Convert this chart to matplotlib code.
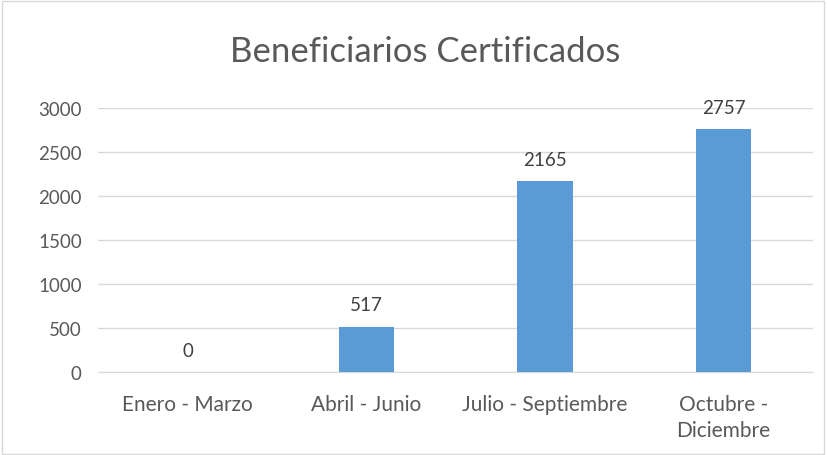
import matplotlib.pyplot as plt
from matplotlib.patches import Rectangle

# Datos
trimestres = ["Enero - Marzo", "Abril - Junio", "Julio - Septiembre", "Octubre -\nDiciembre"]
beneficiarios = [0, 517, 2165, 2757]

plt.rcParams['font.family'] = ['Lato', 'DejaVu Sans']

fig = plt.figure(figsize=(8.27, 4.56), dpi=100)
ax = fig.add_axes([0.119, 0.182, 0.864, 0.579])

x = range(len(trimestres))
ax.bar(x, beneficiarios, width=0.31, color="#5B9BD5", zorder=3)

# Etiquetas de valores
for i, v in enumerate(beneficiarios):
    ax.text(i, v + 150, str(v), ha="center", va="bottom", fontsize=13.5, color="#404040")

ax.set_xlim(-0.5, len(trimestres) - 0.5)
ax.set_ylim(0, 3000)
ax.set_yticks(range(0, 3001, 500))
ax.set_xticks(list(x))
ax.set_xticklabels(trimestres, fontsize=15, color="#595959", va="top", linespacing=1.35)
ax.tick_params(axis="y", labelsize=13.5, labelcolor="#595959", length=0, pad=12)
ax.tick_params(axis="x", length=0, pad=16)

ax.grid(axis="y", color="#D9D9D9", linewidth=1, zorder=0)
for lado in ["top", "right", "left"]:
    ax.spines[lado].set_visible(False)
ax.spines["bottom"].set_color("#D9D9D9")

fig.text(0.514, 0.886, "Beneficiarios Certificados", ha="center", va="center",
         fontsize=25, color="#595959")

# Borde del gráfico
fig.add_artist(Rectangle((0.002, 0.003), 0.994, 0.993, transform=fig.transFigure,
                         fill=False, edgecolor="#D9D9D9", linewidth=1))

fig.savefig("out.png", dpi=100)
